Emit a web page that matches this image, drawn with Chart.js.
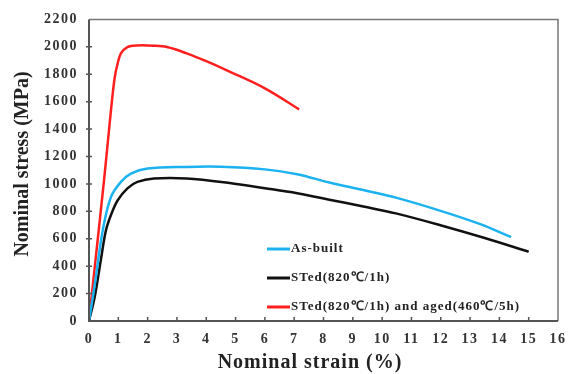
<!DOCTYPE html>
<html>
<head>
<meta charset="utf-8">
<script src="https://cdn.jsdelivr.net/npm/chart.js@4.4.1/dist/chart.umd.min.js"></script>
<style>
  html, body { margin: 0; padding: 0; background: #fff; }
  #wrap { width: 575px; height: 374px; }
</style>
</head>
<body>
<div id="wrap"><canvas id="c" width="575" height="374"></canvas></div>
<script>
// data (strain %, stress MPa)
const asBuiltStrain = [0, 0.2, 0.47, 0.75, 1.09, 1.43, 2.0, 3.33, 4.5, 6.0, 7.1, 8.2, 9.36, 10.47, 12.05, 13.3, 14.4];
const asBuiltStress = [0, 270, 663, 905, 1015, 1075, 1112, 1124, 1125, 1106, 1071, 1010, 955, 900, 800, 710, 612];

const stedStrain = [0, 0.2, 0.4, 0.58, 0.78, 0.98, 1.31, 1.65, 2.21, 3.33, 4.85, 6.0, 7.1, 8.2, 9.36, 10.47, 12.05, 13.5, 15.0];
const stedStress = [0, 180, 440, 663, 790, 881, 968, 1015, 1040, 1040, 1005, 969, 932, 885, 835, 785, 695, 605, 505];

const agedStrain = [0, 0.25, 0.5, 0.64, 0.78, 0.88, 0.98, 1.09, 1.31, 1.65, 2.2, 2.66, 3.33, 4.0, 4.85, 6.0, 7.17];
const agedStress = [0, 500, 1000, 1300, 1600, 1780, 1880, 1952, 1998, 2010, 2008, 1998, 1952, 1895, 1814, 1697, 1544];

const seriesNames = ['As-built', 'STed(820\u2103/1h)', 'STed(820\u2103/1h) and aged(460\u2103/5h)'];
const seriesColors = ['#1cb2f0', '#111111', '#ff1f1f'];

const xTicks = { min: 0, max: 16, step: 1 };
const yTicks = { min: 0, max: 2200, step: 200 };
const xTitle = 'Nominal strain (%)';
const yTitle = 'Nominal stress (MPa)';

const serif = "'Liberation Serif', 'Times New Roman', serif";

function toPoints(xs, ys) {
    return xs.map((x, i) => ({ x: x, y: ys[i] }));
}

// wider tick labels like the original
const spacingPlugin = {
    id: 'spacing',
    beforeDraw(chart) {
        chart.ctx.letterSpacing = '1.5px';
    }
};

// frame, inward ticks, titles, legend inside the plot
const framePlugin = {
    id: 'frame',
    afterDatasetsDraw(chart) {
        const ctx = chart.ctx;
        const a = chart.chartArea;
        const xs = chart.scales.x;
        const ys = chart.scales.y;
        ctx.save();
        // top/right border
        ctx.strokeStyle = '#777';
        ctx.lineWidth = 1.5;
        ctx.beginPath();
        ctx.moveTo(a.left, a.top);
        ctx.lineTo(a.right, a.top);
        ctx.lineTo(a.right, a.bottom);
        ctx.stroke();
        // axes
        ctx.strokeStyle = '#555';
        ctx.lineWidth = 2;
        ctx.beginPath();
        ctx.moveTo(a.left, a.top);
        ctx.lineTo(a.left, a.bottom);
        ctx.lineTo(a.right, a.bottom);
        ctx.stroke();
        // ticks
        ctx.lineWidth = 1.5;
        ctx.beginPath();
        for (let v = xTicks.min + xTicks.step; v < xTicks.max; v += xTicks.step) {
            const px = xs.getPixelForValue(v);
            ctx.moveTo(px, a.bottom);
            ctx.lineTo(px, a.bottom - 4);
        }
        for (let v = yTicks.min + yTicks.step; v < yTicks.max; v += yTicks.step) {
            const py = ys.getPixelForValue(v);
            ctx.moveTo(a.left - 3, py);
            ctx.lineTo(a.left + 3, py);
        }
        ctx.stroke();

        // axis titles
        ctx.fillStyle = '#222';
        ctx.textAlign = 'center';
        ctx.textBaseline = 'middle';
        ctx.font = 'bold 20px ' + serif;
        ctx.letterSpacing = '1px';
        ctx.fillText(xTitle, 310, 363);
        ctx.letterSpacing = '0px';
        ctx.save();
        ctx.translate(23, 164);
        ctx.rotate(-Math.PI / 2);
        ctx.fillText(yTitle, 0, 0);
        ctx.restore();

        // legend
        const lx = 267, ly = [249, 278, 307];
        ctx.font = 'bold 13px ' + serif;
        ctx.letterSpacing = '1px';
        ctx.textAlign = 'left';
        chart.data.datasets.forEach((ds, i) => {
            ctx.strokeStyle = ds.borderColor;
            ctx.lineWidth = 3;
            ctx.beginPath();
            ctx.moveTo(lx, ly[i]);
            ctx.lineTo(lx + 23, ly[i]);
            ctx.stroke();
            ctx.fillText(ds.label, lx + 24, ly[i]);
        });
        ctx.restore();
    }
};

new Chart(document.getElementById('c'), {
    type: 'scatter',
    data: {
        datasets: [
            { label: seriesNames[0], data: toPoints(asBuiltStrain, asBuiltStress), borderColor: seriesColors[0] },
            { label: seriesNames[1], data: toPoints(stedStrain, stedStress), borderColor: seriesColors[1] },
            { label: seriesNames[2], data: toPoints(agedStrain, agedStress), borderColor: seriesColors[2] }
        ].map(d => ({
            ...d,
            showLine: true,
            borderWidth: 2.5,
            pointRadius: 0,
            tension: 0.35,
            backgroundColor: d.borderColor
        }))
    },
    options: {
        responsive: false,
        animation: false,
        layout: { padding: { left: 0, right: 11, top: 19, bottom: 0 } },
        plugins: {
            legend: { display: false },
            tooltip: { enabled: false }
        },
        scales: {
            x: {
                type: 'linear',
                min: xTicks.min,
                max: xTicks.max,
                ticks: {
                    stepSize: xTicks.step,
                    padding: 10,
                    color: '#333',
                    font: { family: serif, size: 14, weight: 'bold' },
                    maxRotation: 0,
                    callback: v => String(v)
                },
                grid: { display: false, drawTicks: false },
                border: { display: false },
                afterFit(s) { s.height = 53; }
            },
            y: {
                type: 'linear',
                min: yTicks.min,
                max: yTicks.max,
                ticks: {
                    stepSize: yTicks.step,
                    padding: 11,
                    color: '#333',
                    font: { family: serif, size: 14, weight: 'bold' },
                    callback: v => String(v)
                },
                grid: { display: false, drawTicks: false },
                border: { display: false },
                afterFit(s) { s.width = 89; }
            }
        }
    },
    plugins: [spacingPlugin, framePlugin]
});
</script>
</body>
</html>
